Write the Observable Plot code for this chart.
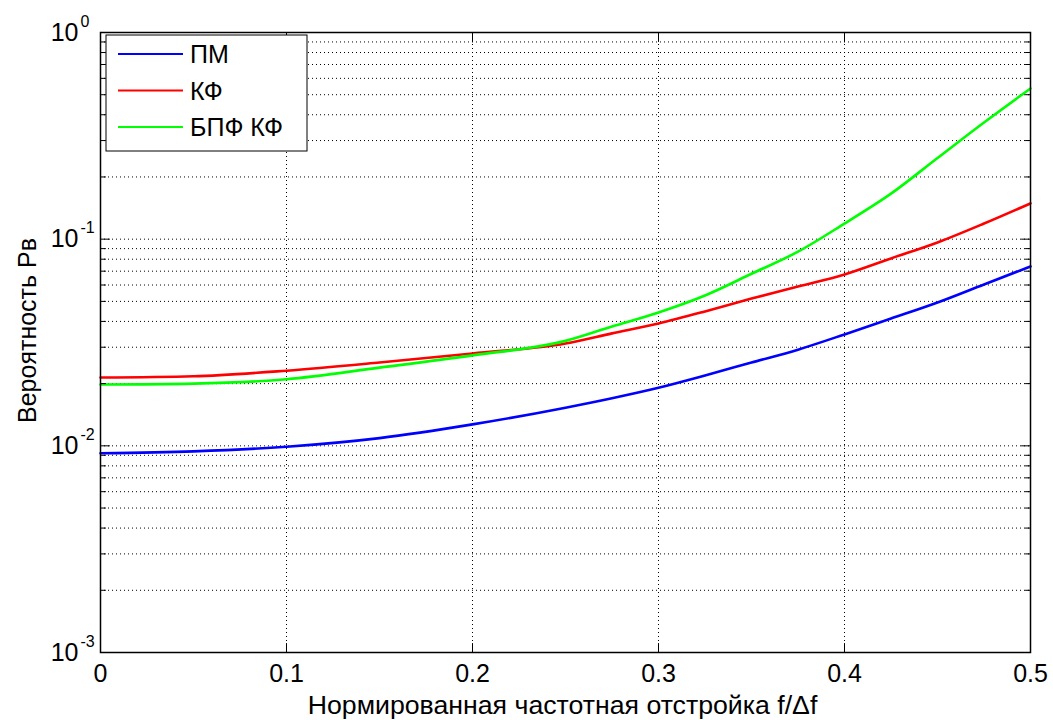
<!DOCTYPE html>
<html><head><meta charset="utf-8">
<script src="https://cdn.jsdelivr.net/npm/d3@7"></script>
<script src="https://cdn.jsdelivr.net/npm/@observablehq/plot@0.6"></script>
<style>body{margin:0;background:#fff}</style>
</head><body><div id="chart"></div>
<script>
// Data
const xs  = [0, 0.05, 0.1, 0.15, 0.2, 0.25, 0.275, 0.3, 0.325, 0.35, 0.375, 0.4, 0.425, 0.45, 0.475, 0.5];
const pm  = [0.0092, 0.0094, 0.0099, 0.0109, 0.0127, 0.0153, 0.0170, 0.0191, 0.0219, 0.0253, 0.0292, 0.0346, 0.0413, 0.0494, 0.0604, 0.0738];
const kf  = [0.0214, 0.0217, 0.0231, 0.0253, 0.0280, 0.0313, 0.0350, 0.0391, 0.0447, 0.0516, 0.0590, 0.0675, 0.0807, 0.0964, 0.119, 0.149];
const bpf = [0.0198, 0.0200, 0.0210, 0.0239, 0.0274, 0.0322, 0.0378, 0.0442, 0.0534, 0.0680, 0.0870, 0.119, 0.166, 0.247, 0.367, 0.536];
const seriesNames  = ["ПМ", "КФ", "БПФ КФ"];
const seriesColors = ["#0000ff", "#ff0000", "#00ff00"];
const xTicks = [0, 0.1, 0.2, 0.3, 0.4, 0.5];
const xTickLabels = ["0", "0.1", "0.2", "0.3", "0.4", "0.5"];
const yMajor = [1e-3, 1e-2, 1e-1, 1];
const yExponents = ["-3", "-2", "-1", "0"];
const xLabel = "Нормированная частотная отстройка f/Δf";
const yLabel = "Вероятность Рв";

const yMinor = [];
for (let k = -3; k <= -1; k++) for (let m = 2; m <= 9; m++) yMinor.push(+(m * Math.pow(10, k)).toPrecision(3));

const seriesValues = [pm, kf, bpf];
const rows = seriesNames.flatMap((s, j) => xs.map((x, i) => ({series: s, x, y: seriesValues[j][i]})));

const tickShape = {draw(ctx, l) { ctx.moveTo(0, 0); ctx.lineTo(0, -l); }};
const dot = {stroke: "#000", strokeWidth: 1, strokeDasharray: "1,3"};
const F = "'Liberation Sans', Arial, sans-serif";

function vticks(data, key, anchor, len, rot) {
  return Plot.vector(data, {[key]: d => d, frameAnchor: anchor, length: len, rotate: rot, anchor: "start", shape: tickShape, stroke: "#000", strokeWidth: 1});
}

const chart = Plot.plot({
  width: 1053, height: 720,
  marginLeft: 100, marginRight: 23, marginTop: 32, marginBottom: 68,
  style: {fontFamily: F, background: "#fff", color: "#000"},
  x: {domain: [0, 0.5], axis: null},
  y: {type: "log", domain: [1e-3, 1], axis: null},
  color: {domain: seriesNames, range: seriesColors},
  marks: [
    Plot.ruleY(yMinor.concat([1e-2, 1e-1]), {y: d => d, ...dot}),
    Plot.ruleX(xTicks.slice(1, -1), {x: d => d, ...dot}),
    Plot.line(rows, {x: "x", y: "y", z: "series", stroke: "series", strokeWidth: 2.6, curve: "monotone-x"}),
    vticks(yMajor, "y", "left", 9, 90),
    vticks(yMinor, "y", "left", 5, 90),
    vticks(yMajor, "y", "right", 9, -90),
    vticks(yMinor, "y", "right", 5, -90),
    vticks(xTicks, "x", "bottom", 9, 0),
    vticks(xTicks, "x", "top", 9, 180),
    Plot.frame({stroke: "#000", strokeWidth: 1.5}),
    Plot.text(yMajor, {y: d => d, frameAnchor: "left", text: () => "10", dx: -22, textAnchor: "end", lineAnchor: "middle", fontSize: 25, fill: "#000"}),
    Plot.text(yMajor, {y: d => d, frameAnchor: "left", text: (d, i) => yExponents[i], dx: -20, dy: -11, textAnchor: "start", lineAnchor: "middle", fontSize: 16, fill: "#000"}),
    Plot.text(xTicks, {x: d => d, frameAnchor: "bottom", text: (d, i) => xTickLabels[i], dy: 21, textAnchor: "middle", lineAnchor: "middle", fontSize: 25, fill: "#000"}),
    Plot.text([xLabel], {frameAnchor: "bottom", text: d => d, dx: -3, dy: 53, textAnchor: "middle", lineAnchor: "middle", fontSize: 26.7, fill: "#000"}),
    Plot.text([yLabel], {frameAnchor: "left", text: d => d, rotate: -90, dx: -73, dy: -12, textAnchor: "middle", lineAnchor: "middle", fontSize: 25, fill: "#000"})
  ]
});
document.getElementById("chart").appendChild(chart);

// Legend (drawn into the same SVG)
const svg = d3.select(chart);
const lg = svg.append("g").attr("font-family", F).attr("text-anchor", "start");
lg.append("rect").attr("x", 106).attr("y", 35).attr("width", 201).attr("height", 116)
  .attr("fill", "#fff").attr("stroke", "#000").attr("stroke-width", 1);
seriesNames.forEach((name, i) => {
  const cy = 54 + i * 36.5;
  lg.append("line").attr("x1", 118).attr("x2", 183).attr("y1", cy).attr("y2", cy)
    .attr("stroke", seriesColors[i]).attr("stroke-width", 2);
  lg.append("text").attr("x", 190).attr("y", cy).attr("dy", "0.36em")
    .attr("font-size", 25).attr("fill", "#000").text(name);
});
</script>
</body></html>
